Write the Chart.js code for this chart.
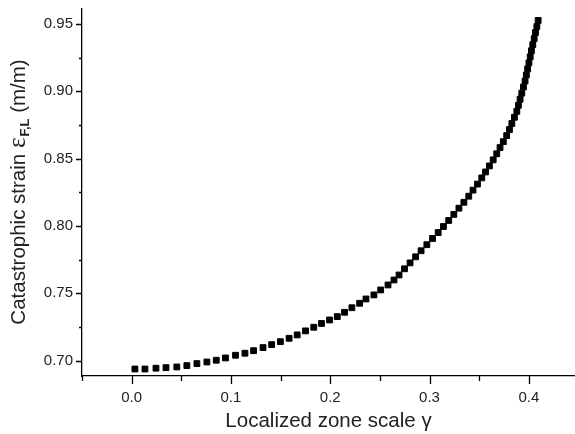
<!DOCTYPE html>
<html>
<head>
<meta charset="utf-8">
<script src="https://cdn.jsdelivr.net/npm/chart.js@4/dist/chart.umd.min.js"></script>
<style>
  body { margin: 0; background: #fff; }
  #chart { display: block; }
</style>
</head>
<body>
<canvas id="chart" width="575" height="434"></canvas>
<script>
const chart = document.getElementById("chart");

// localized zone scale (gamma)
const gammaValues = [
  0.0033, 0.0134, 0.0245, 0.0346, 0.0455, 0.0556, 0.0657, 0.0758, 0.0852, 0.0945,
  0.1046, 0.1141, 0.1228, 0.1323, 0.1410, 0.1498, 0.1586, 0.1667, 0.1751, 0.1834,
  0.1912, 0.1993, 0.2071, 0.2144, 0.2218, 0.2296, 0.2360, 0.2440, 0.2508, 0.2582,
  0.2642, 0.2693, 0.2748, 0.2804, 0.2860, 0.2915, 0.2973, 0.3030, 0.3087, 0.3140,
  0.3193, 0.3245, 0.3296, 0.3346, 0.3395, 0.3438, 0.3483, 0.3526, 0.3564, 0.3603,
  0.3641, 0.3677, 0.3710, 0.3743, 0.3777, 0.3805, 0.3829, 0.3855, 0.3879, 0.3895,
  0.3912, 0.3929, 0.3946, 0.3962, 0.3975, 0.3988, 0.4001, 0.4014, 0.4026, 0.4040,
  0.4054, 0.4067, 0.4081, 0.4094
];

// catastrophic strain (m/m)
const strainValues = [
  0.6938, 0.6938, 0.6944, 0.6948, 0.6953, 0.6963, 0.6978, 0.6990, 0.7003, 0.7020,
  0.7040, 0.7055, 0.7074, 0.7097, 0.7119, 0.7141, 0.7166, 0.7191, 0.7221, 0.7248,
  0.7276, 0.7302, 0.7327, 0.7359, 0.7393, 0.7426, 0.7458, 0.7488, 0.7525, 0.7562,
  0.7599, 0.7636, 0.7682, 0.7726, 0.7771, 0.7816, 0.7861, 0.7907, 0.7951, 0.7996,
  0.8041, 0.8086, 0.8132, 0.8176, 0.8221, 0.8266, 0.8311, 0.8357, 0.8401, 0.8446,
  0.8491, 0.8536, 0.8582, 0.8626, 0.8671, 0.8716, 0.8761, 0.8807, 0.8851, 0.8896,
  0.8941, 0.8986, 0.9032, 0.9076, 0.9121, 0.9166, 0.9211, 0.9256, 0.9301, 0.9346,
  0.9391, 0.9436, 0.9481, 0.9526
];

const xTicks = [-0.05, 0, 0.05, 0.1, 0.15, 0.2, 0.25, 0.3, 0.35, 0.4];
const yTicks = [0.7, 0.725, 0.75, 0.775, 0.8, 0.825, 0.85, 0.875, 0.9, 0.925, 0.95];

const xTitle = "Localized zone scale \u03b3";
const yTitleMain = "Catastrophic strain ";
const yTitleSymbol = "\u03b5";
const yTitleSub = "F,L";
const yTitleUnit = " (m/m)";

const FONT = "'Liberation Sans', Arial, sans-serif";

const points = gammaValues.map((g, i) => ({ x: g, y: strainValues[i] }));

function isMajor(v, step) {
  const k = v / step;
  return Math.abs(k - Math.round(k)) < 1e-6;
}

// outward tick marks, long for labelled ticks, short for minor ones
const tickMarks = {
  id: "tickMarks",
  afterDraw(c) {
    const ctx = c.ctx;
    const xs = c.scales.x, ys = c.scales.y;
    const area = c.chartArea;
    ctx.save();
    ctx.strokeStyle = "#000";
    ctx.lineWidth = 1.3;
    ctx.beginPath();
    xs.ticks.forEach(t => {
      const px = Math.round(xs.getPixelForValue(t.value)) + 0.5;
      const len = isMajor(t.value, 0.1) ? 8 : 5;
      ctx.moveTo(px, area.bottom);
      ctx.lineTo(px, area.bottom + len);
    });
    ys.ticks.forEach(t => {
      const py = Math.round(ys.getPixelForValue(t.value)) + 0.5;
      const len = isMajor(t.value, 0.05) ? 6 : 3;
      ctx.moveTo(area.left, py);
      ctx.lineTo(area.left - len, py);
    });
    ctx.stroke();
    ctx.restore();
  }
};

// y title with the subscript on epsilon
const yTitle = {
  id: "yTitle",
  afterDraw(c) {
    const ctx = c.ctx;
    const area = c.chartArea;
    const mainFont = "20.5px " + FONT;
    const symFont = "25px 'Liberation Serif', serif";
    const subFont = "bold 13px " + FONT;
    ctx.save();
    ctx.fillStyle = "#222";
    ctx.textBaseline = "alphabetic";
    ctx.font = mainFont;
    const w1 = ctx.measureText(yTitleMain).width;
    const w4 = ctx.measureText(yTitleUnit).width;
    ctx.font = symFont;
    const w2 = ctx.measureText(yTitleSymbol).width;
    ctx.font = subFont;
    const w3 = ctx.measureText(yTitleSub).width;
    const total = w1 + w2 + w3 + w4;
    ctx.translate(25, (area.top + area.bottom) / 2);
    ctx.rotate(-Math.PI / 2);
    let x = -total / 2;
    ctx.font = mainFont;
    ctx.fillText(yTitleMain, x, 0);
    x += w1;
    ctx.font = symFont;
    ctx.fillText(yTitleSymbol, x, 0);
    x += w2 + 1;
    ctx.font = subFont;
    ctx.fillText(yTitleSub, x, 4);
    x += w3;
    ctx.font = mainFont;
    ctx.fillText(yTitleUnit, x, 0);
    ctx.restore();
  }
};

new Chart(chart, {
  type: "scatter",
  data: {
    datasets: [
      {
        data: points,
        pointStyle: "rect",
        pointRadius: 4.1,
        pointBackgroundColor: "#000",
        pointBorderColor: "#000",
        pointBorderWidth: 1,
        showLine: false,
      },
    ],
  },
  options: {
    responsive: false,
    animation: false,
    layout: { autoPadding: false, padding: { top: 9, right: 0, left: 0, bottom: 0 } },
    plugins: {
      legend: { display: false },
      tooltip: { enabled: false },
      title: { display: false },
    },
    scales: {
      x: {
        type: "linear",
        min: -0.05,
        max: 0.4465,
        afterBuildTicks: s => { s.ticks = xTicks.map(v => ({ value: v })); },
        afterFit: s => {
          s.height = 58;
          s.paddingLeft = 0;
          s.paddingRight = 0;
        },
        grid: { drawOnChartArea: false, drawTicks: false },
        border: { display: true, color: "#000", width: 1.3 },
        ticks: {
          autoSkip: false,
          maxRotation: 0,
          padding: 13,
          color: "#222",
          font: { family: FONT, size: 15 },
          callback: v => (isMajor(v, 0.1) ? v.toFixed(1) : ""),
        },
        title: {
          display: true,
          text: xTitle,
          color: "#222",
          font: { family: FONT, size: 20.5 },
          padding: { top: 6, bottom: 0 },
        },
      },
      y: {
        type: "linear",
        min: 0.6886,
        max: 0.9611,
        afterBuildTicks: s => { s.ticks = yTicks.map(v => ({ value: v })); },
        afterFit: s => {
          s.width = 82;
          s.paddingTop = 0;
          s.paddingBottom = 0;
        },
        grid: { drawOnChartArea: false, drawTicks: false },
        border: { display: true, color: "#000", width: 1.3 },
        ticks: {
          autoSkip: false,
          padding: 9,
          color: "#222",
          font: { family: FONT, size: 15 },
          callback: v => (isMajor(v, 0.05) ? v.toFixed(2) : ""),
        },
      },
    },
  },
  plugins: [tickMarks, yTitle],
});
</script>
</body>
</html>
